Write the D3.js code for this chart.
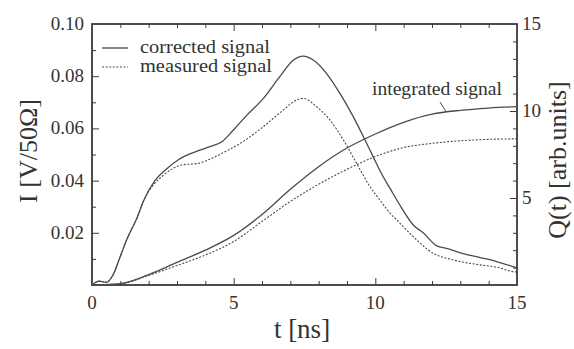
<!DOCTYPE html>
<html>
<head>
<meta charset="utf-8">
<script src="https://cdn.jsdelivr.net/npm/d3@7/dist/d3.min.js"></script>
<style>
  html, body { margin: 0; padding: 0; background: #fff; }
  svg { display: block; }
  text { font-family: "Liberation Serif", "Times New Roman", Times, serif; fill: #333; }
</style>
</head>
<body>
<svg id="chart" width="574" height="349"></svg>
<script>
// Current I(t) through the 50 Ω load: corrected and measured traces
const tCorrected = [0, 0.25, 0.5, 0.75, 1.0, 1.25, 1.6, 1.81, 2.22, 2.58, 3.05, 3.64, 4.16, 4.6, 5.0, 5.46, 6.05, 6.64, 7.11, 7.46, 7.81, 8.28, 8.75, 9.22, 9.58, 9.93, 10.2, 10.52, 10.9, 11.34, 11.69, 12.17, 12.52, 13.1, 13.7, 14.28, 14.87, 15];
const iCorrected = [0, 0.0015, 0.001, 0.004, 0.011, 0.018, 0.026, 0.032, 0.040, 0.044, 0.048, 0.051, 0.053, 0.055, 0.0595, 0.065, 0.0715, 0.080, 0.0862, 0.0877, 0.0862, 0.081, 0.0734, 0.0645, 0.0568, 0.049, 0.043, 0.037, 0.030, 0.023, 0.020, 0.015, 0.014, 0.012, 0.0105, 0.009, 0.007, 0.0065];

const tMeasured = [0, 0.25, 0.5, 0.75, 1.0, 1.25, 1.6, 1.81, 2.22, 2.46, 3.17, 3.75, 4.22, 4.81, 5.34, 6.05, 6.75, 7.22, 7.46, 7.93, 8.4, 8.87, 9.34, 9.81, 10.2, 10.52, 10.75, 11.34, 12.05, 12.75, 13.7, 14.3, 14.87, 15];
const iMeasured = [0, 0.0015, 0.001, 0.004, 0.011, 0.018, 0.026, 0.032, 0.039, 0.0415, 0.046, 0.0466, 0.0485, 0.0517, 0.055, 0.0607, 0.067, 0.0709, 0.0715, 0.0683, 0.0632, 0.0556, 0.0466, 0.0377, 0.032, 0.0275, 0.025, 0.0185, 0.0121, 0.0096, 0.0077, 0.0068, 0.0051, 0.005];

// Integrated charge Q(t) in arbitrary units (right axis)
const tQCorrected = [0, 1, 2, 3, 4, 5, 6, 7, 8, 9, 10, 11, 12, 13, 14, 15];
const qCorrected = [0, 0.08, 0.6, 1.3, 2.0, 2.85, 4.05, 5.5, 6.8, 7.87, 8.68, 9.35, 9.82, 10.04, 10.17, 10.25];

const tQMeasured = [0, 1, 2, 3, 4, 5, 6, 7, 8, 9, 10, 11, 12, 13, 14, 15];
const qMeasured = [0, 0.07, 0.55, 1.12, 1.72, 2.5, 3.65, 4.8, 5.79, 6.65, 7.38, 7.9, 8.14, 8.29, 8.37, 8.4];

// Axis tick labels
const xTickValues = [0, 5, 10, 15];
const yTickValues = [0.02, 0.04, 0.06, 0.08, 0.10];
const qTickValues = [5, 10, 15];

const legendLabels = ["corrected signal", "measured signal"];
const integratedLabel = "integrated signal";

const svg = d3.select("#chart");
const m = { left: 92, right: 517, top: 24, bottom: 285 };
const ink = "#3a3a3a";

const x = d3.scaleLinear().domain([0, 15]).range([m.left, m.right]);
const y = d3.scaleLinear().domain([0, 0.10]).range([m.bottom, m.top]);
const yQ = d3.scaleLinear().domain([0, 15]).range([m.bottom, m.top]);

const g = svg.append("g");

// Inward ticks on all four sides, minor and major
function tickSet(axisFn, scale, values, size, transform) {
  const gen = axisFn(scale).tickValues(values).tickSize(-size).tickFormat("");
  const a = g.append("g").attr("transform", transform).call(gen);
  a.select(".domain").remove();
  a.selectAll("line").attr("stroke", ink).attr("stroke-width", 1);
}
const xMinor = d3.range(1, 15).filter(v => v % 5 !== 0);
const yMinor = [0.01, 0.03, 0.05, 0.07, 0.09];
const qMinor = d3.range(1, 15).filter(v => v % 5 !== 0);
tickSet(d3.axisBottom, x, xMinor, 4, `translate(0,${m.bottom})`);
tickSet(d3.axisBottom, x, [5, 10], 7, `translate(0,${m.bottom})`);
tickSet(d3.axisTop, x, xMinor, 4, `translate(0,${m.top})`);
tickSet(d3.axisTop, x, [5, 10], 7, `translate(0,${m.top})`);
tickSet(d3.axisLeft, y, yMinor, 4, `translate(${m.left},0)`);
tickSet(d3.axisLeft, y, yTickValues.filter(v => v < 0.1), 7, `translate(${m.left},0)`);
tickSet(d3.axisRight, yQ, qMinor, 4, `translate(${m.right},0)`);
tickSet(d3.axisRight, yQ, [5, 10], 7, `translate(${m.right},0)`);

// Frame
g.append("rect")
  .attr("x", m.left).attr("y", m.top)
  .attr("width", m.right - m.left).attr("height", m.bottom - m.top)
  .attr("fill", "none").attr("stroke", ink).attr("stroke-width", 1.8);

// Tick labels
const tickFont = 19;
g.selectAll(".xl").data(xTickValues).join("text")
  .attr("x", d => x(d)).attr("y", 309)
  .attr("text-anchor", "middle").attr("font-size", tickFont)
  .text(d => d);
g.selectAll(".yl").data(yTickValues).join("text")
  .attr("x", 84).attr("y", d => y(d) + 6)
  .attr("text-anchor", "end").attr("font-size", tickFont)
  .text(d => d3.format(".2f")(d));
g.selectAll(".ql").data(qTickValues).join("text")
  .attr("x", 522).attr("y", d => yQ(d) + 6)
  .attr("text-anchor", "start").attr("font-size", tickFont)
  .text(d => d);

// Axis titles
g.append("text").attr("x", 302).attr("y", 338)
  .attr("text-anchor", "middle").attr("font-size", 27).text("t [ns]");
g.append("text").attr("transform", "translate(37,151) rotate(-90)")
  .attr("text-anchor", "middle").attr("font-size", 26).text("I [V/50Ω]");
g.append("text").attr("transform", "translate(566,160) rotate(-90)")
  .attr("text-anchor", "middle").attr("font-size", 26).text("Q(t) [arb.units]");

// Curves
const lineI = d3.line().x(d => x(d[0])).y(d => y(d[1])).curve(d3.curveMonotoneX);
const lineQ = d3.line().x(d => x(d[0])).y(d => yQ(d[1])).curve(d3.curveMonotoneX);
const curveColor = "#4a4a4a";
const dash = "2,1.6";

const series = [
  { gen: lineI, t: tCorrected, v: iCorrected, dashed: false },
  { gen: lineI, t: tMeasured, v: iMeasured, dashed: true },
  { gen: lineQ, t: tQCorrected, v: qCorrected, dashed: false },
  { gen: lineQ, t: tQMeasured, v: qMeasured, dashed: true }
];
series.forEach(s => {
  g.append("path")
    .datum(s.t.map((t, i) => [t, s.v[i]]))
    .attr("d", s.gen)
    .attr("fill", "none")
    .attr("stroke", curveColor)
    .attr("stroke-width", s.dashed ? 1.1 : 1.3)
    .attr("stroke-dasharray", s.dashed ? dash : null);
});

// Legend
legendLabels.forEach((label, i) => {
  const ly = 48 + i * 19;
  g.append("line").attr("x1", 102).attr("x2", 128).attr("y1", ly).attr("y2", ly)
    .attr("stroke", curveColor).attr("stroke-width", i ? 1.1 : 1.3)
    .attr("stroke-dasharray", i ? dash : null);
  g.append("text").attr("x", 140).attr("y", ly + 5).attr("font-size", 19)
    .attr("textLength", i ? 132 : 130).attr("lengthAdjust", "spacingAndGlyphs")
    .text(label);
});

// Label for the integrated curves with a short pointer
g.append("text").attr("x", 372).attr("y", 95).attr("font-size", 19)
  .attr("textLength", 130).attr("lengthAdjust", "spacingAndGlyphs")
  .text(integratedLabel);
g.append("line").attr("x1", 440).attr("y1", 102).attr("x2", 446).attr("y2", yQ(9.96))
  .attr("stroke", curveColor).attr("stroke-width", 1);
</script>
</body>
</html>
